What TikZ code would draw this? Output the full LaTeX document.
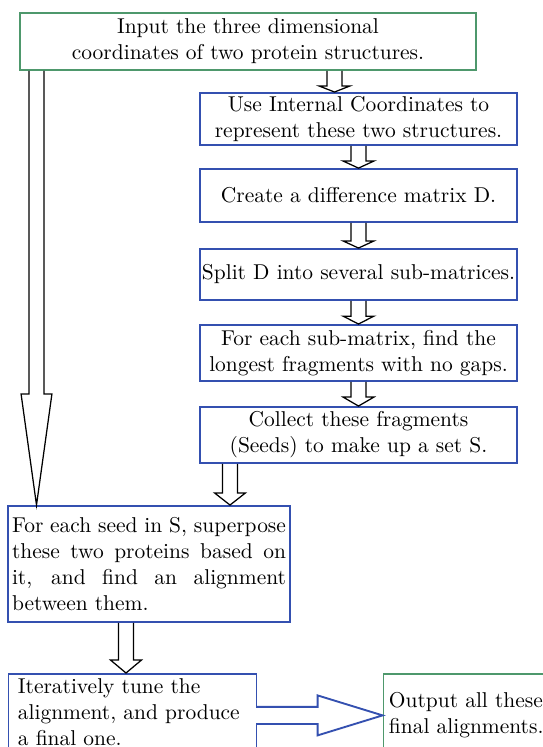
\documentclass[tikz,border=0pt]{standalone}
\usepackage{tikz}
\usepackage{xcolor}
\usetikzlibrary{calc}

\definecolor{boxgreen}{RGB}{78,152,108}
\definecolor{boxblue}{RGB}{52,80,176}

% hollow block arrow pointing down: x position, from anchor, to anchor, head length
\newcommand{\blockdown}[4]{%
  \draw[blockarr] let \p1=(#1 |- #2), \p2=(#1 |- #3) in
    (\x1-3.6pt,\y1) -- (\x1-3.6pt,\y2+#4) -- (\x1-7.4pt,\y2+#4) -- (\x2,\y2)
    -- (\x1+7.4pt,\y2+#4) -- (\x1+3.6pt,\y2+#4) -- (\x1+3.6pt,\y1);}

\begin{document}
\begin{tikzpicture}[x=0.48pt, y=-0.48pt,
    greenbox/.style={draw=boxgreen, line width=0.9pt, align=center, inner sep=1pt,
        font=\fontsize{10.3pt}{12.4pt}\selectfont},
    bluebox/.style={draw=boxblue, line width=0.9pt, align=center, inner sep=1pt,
        font=\fontsize{10.3pt}{12.4pt}\selectfont},
    rightbox/.style={bluebox, minimum width=152pt},
    blockarr/.style={draw=black, line width=0.6pt},
    bluearr/.style={fill=white, draw=boxblue, line width=0.9pt}]
    \clip (0,0) rectangle (543,747);

    \node[greenbox, minimum width=218.9pt, minimum height=27.4pt] (input) at (248,41.3)
        {Input the three dimensional\\coordinates of two protein structures.};
    \node[rightbox, minimum height=25pt] (internal) at (358.5,119)
        {Use Internal Coordinates to\\represent these two structures.};
    \node[rightbox, minimum height=25.4pt] (diffmat) at (358.5,195.5)
        {Create a difference matrix D.};
    \node[rightbox, minimum height=24.5pt] (split) at (358.5,274.5)
        {Split D into several sub-matrices.};
    \node[rightbox, minimum height=26.9pt] (longest) at (358.5,353)
        {For each sub-matrix, find the\\longest fragments with no gaps.};
    \node[rightbox, minimum height=26.9pt] (seeds) at (358.5,435)
        {Collect these fragments\\(Seeds) to make up a set S.};
    \node[bluebox, minimum width=135.4pt, minimum height=55.7pt, text width=131.5pt,
          align=justify, inner xsep=1.9pt] (superpose) at (149,564)
        {For each seed in S, superpose\linebreak these two proteins based on\linebreak
         it, and find an alignment\linebreak between them.};
    \node[bluebox, anchor=north west, text width=110pt, align=left,
          inner xsep=4.5pt, inner ysep=2.4pt] (tune) at (7.6,673)
        {Iteratively tune the\\alignment, and produce\\a final one.};
    \node[greenbox, anchor=north west, minimum height=39.8pt, text width=80pt,
          align=left, inner xsep=2.6pt] (output) at (382.6,673)
        {Output all these\\final alignments.};

    \blockdown{334.5,0}{input.south}{internal.north}{2.9pt}
    \blockdown{358.5,0}{internal.south}{diffmat.north}{3.4pt}
    \blockdown{358.5,0}{diffmat.south}{split.north}{3.4pt}
    \blockdown{358.5,0}{split.south}{longest.north}{3.8pt}
    \blockdown{358.5,0}{longest.south}{seeds.north}{4.3pt}
    \blockdown{230,0}{seeds.south}{superpose.north}{5.8pt}
    \blockdown{126,0}{superpose.south}{tune.north}{6.2pt}
    \blockdown{36.5,0}{input.south}{superpose.north}{53.3pt}

    \path[bluearr] let \p1=(tune.east |- output.west), \p2=(output.west) in
        (\x1-0.6pt,\y1+4.1pt) -- (\x2-31.2pt,\y1+4.1pt) -- (\x2-31.2pt,\y1+9.6pt)
        -- (\x2,\y2) -- (\x2-31.2pt,\y1-9.6pt) -- (\x2-31.2pt,\y1-4.1pt)
        -- (\x1-0.6pt,\y1-4.1pt);
\end{tikzpicture}
\end{document}
